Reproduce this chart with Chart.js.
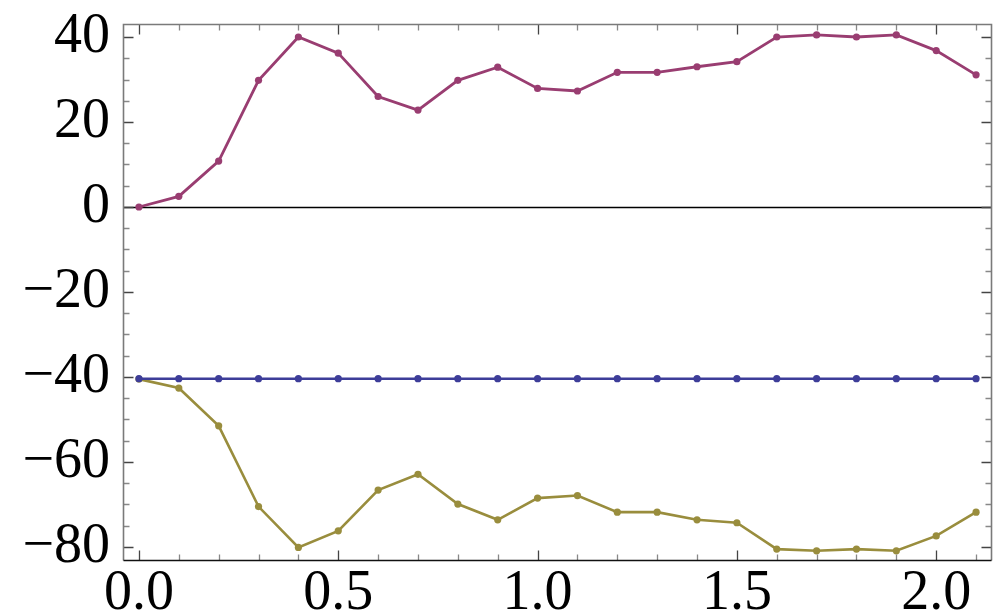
<!DOCTYPE html>
<html>
<head>
<meta charset="utf-8">
<script src="https://cdn.jsdelivr.net/npm/chart.js@4.4.1/dist/chart.umd.min.js"></script>
<style>
html,body{margin:0;padding:0;background:#fff;}
#wrap{width:1006px;height:614px;}
</style>
</head>
<body>
<div id="wrap"><canvas id="c" width="1006" height="614"></canvas></div>
<script>
const xValues = [0.0,0.1,0.2,0.3,0.4,0.5,0.6,0.7,0.8,0.9,1.0,1.1,1.2,1.3,1.4,1.5,1.6,1.7,1.8,1.9,2.0,2.1];
const purpleSeries = [0,2.5,10.8,29.8,40,36.2,26,22.8,29.8,32.9,27.9,27.3,31.7,31.7,33.0,34.2,40,40.5,40,40.5,36.8,31.1];
const blueSeries = [-40.4,-40.4,-40.4,-40.4,-40.4,-40.4,-40.4,-40.4,-40.4,-40.4,-40.4,-40.4,-40.4,-40.4,-40.4,-40.4,-40.4,-40.4,-40.4,-40.4,-40.4,-40.4];
const goldSeries = [-40.5,-42.6,-51.5,-70.5,-80.1,-76.2,-66.6,-62.9,-69.9,-73.6,-68.5,-67.9,-71.8,-71.8,-73.6,-74.3,-80.5,-80.9,-80.5,-80.9,-77.4,-71.8];
const xTickLabels = [0.0,0.5,1.0,1.5,2.0];
const yTickLabels = [-80,-60,-40,-20,0,20,40];
const xMinorTicks = [0.0,0.1,0.2,0.3,0.4,0.5,0.6,0.7,0.8,0.9,1.0,1.1,1.2,1.3,1.4,1.5,1.6,1.7,1.8,1.9,2.0,2.1];
const yMinorTicks = [-80,-75,-70,-65,-60,-55,-50,-45,-40,-35,-30,-25,-20,-15,-10,-5,0,5,10,15,20,25,30,35,40];

const toPts = (ys) => xValues.map((x,i)=>({x:x,y:ys[i]}));

const framePlugin = {
  id:'frame',
  beforeDatasetsDraw(chart){
    const {ctx, chartArea:a, scales} = chart;
    const ys = scales.y;
    ctx.save();
    ctx.strokeStyle = '#000';
    ctx.lineWidth = 1.3;
    const y0 = Math.round(ys.getPixelForValue(0))+0.5;
    ctx.beginPath(); ctx.moveTo(a.left,y0); ctx.lineTo(a.right,y0); ctx.stroke();
    ctx.restore();
  },
  afterDatasetsDraw(chart){
    const {ctx, chartArea:a, scales} = chart;
    const xs = scales.x, ys = scales.y;
    ctx.save();
    const L = Math.round(a.left)+0.5, R = Math.round(a.right)-0.5, T = Math.round(a.top)+0.5, B = Math.round(a.bottom)-0.5;
    xMinorTicks.forEach(v=>{
      const major = xTickLabels.some(m=>Math.abs(m-v)<1e-9);
      const len = major?10:6;
      const px = Math.round(xs.getPixelForValue(v))+0.5;
      ctx.strokeStyle = major ? '#444' : '#888';
      ctx.lineWidth = 1.3;
      ctx.beginPath();
      ctx.moveTo(px,B); ctx.lineTo(px,B-len);
      ctx.moveTo(px,T); ctx.lineTo(px,T+len);
      ctx.stroke();
    });
    yMinorTicks.forEach(v=>{
      const major = yTickLabels.some(m=>Math.abs(m-v)<1e-9);
      const len = major?10:6;
      const py = Math.round(ys.getPixelForValue(v))+0.5;
      ctx.strokeStyle = major ? '#444' : '#888';
      ctx.lineWidth = 1.3;
      ctx.beginPath();
      ctx.moveTo(L,py); ctx.lineTo(L+len,py);
      ctx.moveTo(R,py); ctx.lineTo(R-len,py);
      ctx.stroke();
    });
    ctx.lineWidth = 1.6;
    ctx.strokeStyle = '#7a7a7a';
    ctx.beginPath();
    ctx.moveTo(L,B); ctx.lineTo(L,T); ctx.lineTo(R,T); ctx.lineTo(R,B);
    ctx.stroke();
    ctx.strokeStyle = '#111';
    ctx.beginPath(); ctx.moveTo(L,B); ctx.lineTo(R,B); ctx.stroke();
    ctx.restore();
  }
};

const mk = (data,color,w)=>({
  data: toPts(data),
  borderColor: color,
  backgroundColor: color,
  borderWidth: w,
  pointRadius: 3.6,
  pointHoverRadius: 3.6,
  pointBorderWidth: 0,
  tension: 0,
  clip: false
});

const FONT = {family:'"Liberation Serif", "Times New Roman", serif', size:56};

new Chart(document.getElementById('c'),{
  type:'line',
  data:{
    datasets:[
      mk(purpleSeries,'#993d71',2.8),
      mk(blueSeries,'#3d3d99',2.6),
      mk(goldSeries,'#998d3d',2.6)
    ]
  },
  options:{
    responsive:false,
    animation:false,
    events:[],
    layout:{padding:{left:0,right:14,top:24,bottom:0}},
    plugins:{legend:{display:false},tooltip:{enabled:false}},
    scales:{
      x:{
        type:'linear',
        min:-0.04, max:2.14,
        grid:{display:false, drawTicks:false},
        border:{display:false},
        afterBuildTicks(s){ s.ticks = xTickLabels.map(v=>({value:v})); },
        afterFit(s){ s.height = 53; s.paddingLeft = 0; s.paddingRight = 0; },
        ticks:{
          font:FONT,
          color:'#000',
          padding:0,
          maxRotation:0,
          autoSkip:false,
          callback:(v)=>Number(v).toFixed(1)
        }
      },
      y:{
        type:'linear',
        min:-83.3, max:43.06,
        grid:{display:false, drawTicks:false},
        border:{display:false},
        afterBuildTicks(s){ s.ticks = yTickLabels.map(v=>({value:v})); },
        afterFit(s){ s.width = 123; s.paddingTop = 0; s.paddingBottom = 0; },
        ticks:{
          font:FONT,
          color:'#000',
          padding:13,
          autoSkip:false,
          callback:(v)=>String(v).replace('-','\u2212')
        }
      }
    }
  },
  plugins:[framePlugin]
});
</script>
</body>
</html>
